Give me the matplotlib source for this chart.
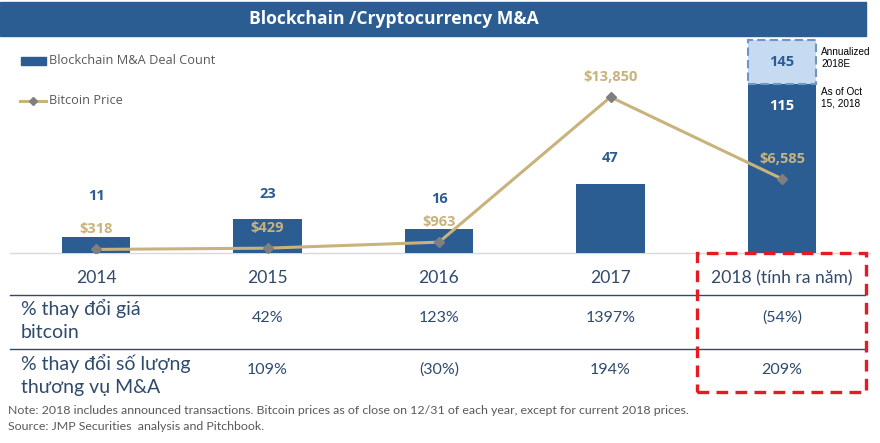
import numpy as np
import matplotlib
matplotlib.use("Agg")
import matplotlib.pyplot as plt
from matplotlib.patches import Rectangle
from matplotlib.lines import Line2D
from matplotlib import transforms

# данные
years = ["2014", "2015", "2016", "2017", "2018"]
deal_count = [11, 23, 16, 47, 115]
deal_annualized = 145
btc_price = [318, 429, 963, 13850, 6585]
price_labels = ["$318", "$429", "$963", "$13,850", "$6,585"]

table_header = ["2014", "2015", "2016", "2017", "2018 (tính ra năm)"]
row_names = ["% thay đổi giá\nbitcoin", "% thay đổi số lượng\nthương vụ M&A"]
price_change = ["", "42%", "123%", "1397%", "(54%)"]
deal_change = ["", "109%", "(30%)", "194%", "209%"]

BLUE = "#2B5C92"
LIGHT = "#C6DAF1"
DASH = "#6D96C6"
GOLD = "#C9B37C"
GREY = "#7F7F7F"
TXT = "#2F4A6D"
NOTE = "#595959"
RED = "#E31B23"

W, H = 880, 443


def fx(x):
    return x / W


def fy(y):
    return 1 - y / H


fig = plt.figure(figsize=(8.8, 4.43), dpi=100)

# заголовок
fig.patches.append(Rectangle((0, fy(36)), fx(866), 34 / H, transform=fig.transFigure,
                             color=BLUE, zorder=0))
fig.text(fx(394), fy(19), "Blockchain /Cryptocurrency M&A", color="white",
         fontsize=12.6, fontweight="bold", family=["Open Sans", "DejaVu Sans"],
         ha="center", va="center")

# основной график
ax = fig.add_axes([fx(10), fy(253), fx(870) - fx(10), 220.5 / H])
ax.set_xlim(-0.5015, 4.513)
ax.set_ylim(0, 150)
ax.axis("off")
x = np.arange(len(years))

ax.bar(x, deal_count, width=0.4, color=BLUE, zorder=2)
ax.bar(x[-1], deal_annualized - deal_count[-1], bottom=deal_count[-1], width=0.4,
       color=LIGHT, edgecolor=DASH, linestyle=(0, (4, 2)), linewidth=1.5, zorder=2)
ax.axhline(0, color="#D9D9D9", lw=1, clip_on=False, zorder=1)

bold = dict(fontsize=10.5, fontweight="bold", family=["Open Sans", "DejaVu Sans"],
            ha="center", va="center")
lab_off = [41, 25, 30, 26]
for xi, v, off in zip(x[:-1], deal_count[:-1], lab_off):
    ax.annotate(str(v), (xi, v), xytext=(0, off), textcoords="offset pixels",
                color=BLUE, **bold)
ax.annotate(str(deal_count[-1]), (x[-1], deal_count[-1]), xytext=(0, -22),
            textcoords="offset pixels", color="white", zorder=5, **bold)
ax.annotate(str(deal_annualized), (x[-1], (deal_annualized + deal_count[-1]) / 2),
            color=BLUE, zorder=5, **bold)

ax2 = ax.twinx()
ax2.set_ylim(0, 220.5 / 0.01126)
ax2.axis("off")
ax2.plot(x, btc_price, color=GOLD, lw=2.2, marker="D", ms=5, mfc=GREY, mec=GREY, zorder=3)
for xi, v, s in zip(x, btc_price, price_labels):
    ax2.annotate(s, (xi, v), xytext=(0, 20), textcoords="offset pixels",
                 color=GOLD, **bold)

# легенда
fig.patches.append(Rectangle((fx(21), fy(65)), fx(25), 8 / H, transform=fig.transFigure,
                             color=BLUE))
fig.text(fx(49), fy(60), "Blockchain M&A Deal Count", color=NOTE, fontsize=9.2,
         family=["Open Sans", "DejaVu Sans"], va="center")
fig.lines.append(Line2D([fx(20), fx(46)], [fy(101), fy(101)], transform=fig.transFigure,
                        color=GOLD, lw=2.2))
fig.lines.append(Line2D([fx(33)], [fy(101)], transform=fig.transFigure, marker="D",
                        ms=4.5, color=GREY, lw=0))
fig.text(fx(49), fy(101), "Bitcoin Price", color=NOTE, fontsize=9.2,
         family=["Open Sans", "DejaVu Sans"], va="center")

# подписи справа
fig.text(fx(821), fy(58), "Annualized\n2018E", fontsize=7.2, color="black",
         family=["Liberation Sans", "DejaVu Sans"], va="center", linespacing=1.25)
fig.text(fx(821), fy(98), "As of Oct\n15, 2018", fontsize=7.2, color="black",
         family=["Liberation Sans", "DejaVu Sans"], va="center", linespacing=1.25)

# таблица
tr = transforms.blended_transform_factory(ax.transData, fig.transFigure)
tfont = ["Lato", "DejaVu Sans"]
for xi, s in zip(x, table_header):
    fig.text(xi, fy(278), s, transform=tr, ha="center", va="center", color=TXT,
             fontsize=12.6, family=tfont)
for xi, s in zip(x, price_change):
    fig.text(xi, fy(318), s, transform=tr, ha="center", va="center", color=TXT,
             fontsize=11.5, family=tfont)
for xi, s in zip(x, deal_change):
    fig.text(xi, fy(370), s, transform=tr, ha="center", va="center", color=TXT,
             fontsize=11.5, family=tfont)
fig.text(fx(21), fy(320), row_names[0], ha="left", va="center", color=TXT,
         fontsize=14, family=tfont, linespacing=1.4)
fig.text(fx(21), fy(375), row_names[1], ha="left", va="center", color=TXT,
         fontsize=14, family=tfont, linespacing=1.4)
for yy in (295, 349):
    fig.lines.append(Line2D([fx(10), fx(865)], [fy(yy), fy(yy)], transform=fig.transFigure,
                            color=TXT, lw=1))

fig.patches.append(Rectangle((fx(697), fy(392)), fx(866) - fx(697), 139 / H,
                             transform=fig.transFigure, fill=False, edgecolor=RED,
                             lw=2.4, linestyle=(0, (3.5, 2.2)), zorder=5))

fig.text(fx(8), fy(410), "Note: 2018 includes announced transactions. Bitcoin prices as of close "
         "on 12/31 of each year, except for current 2018 prices.", fontsize=8.9, color=NOTE,
         family=tfont, va="center")
fig.text(fx(8), fy(426), "Source: JMP Securities  analysis and Pitchbook.", fontsize=8.9,
         color=NOTE, family=tfont, va="center")

fig.savefig("out.png", dpi=100)
